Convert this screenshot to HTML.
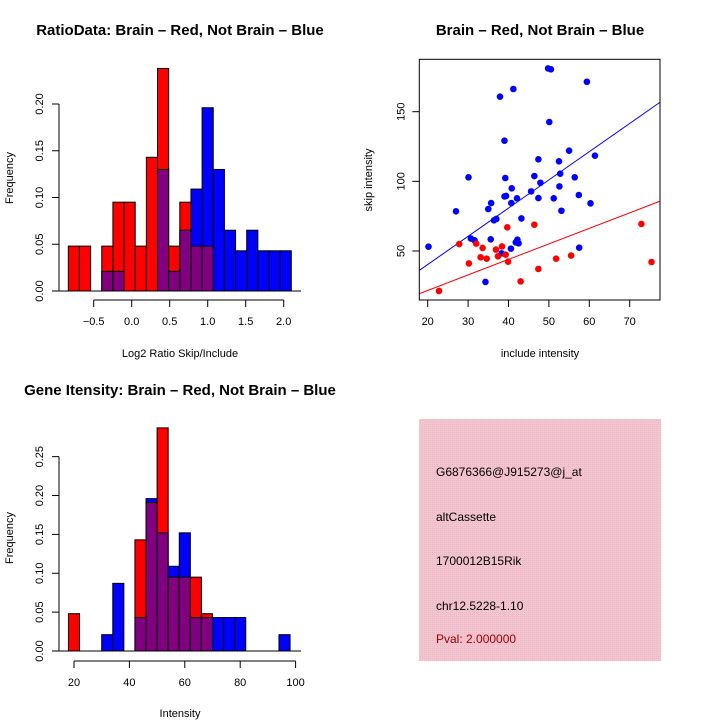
<!DOCTYPE html>
<html><head><meta charset="utf-8"><style>
body{margin:0;background:#fff}
svg{display:block;font-family:"Liberation Sans",sans-serif}
</style></head><body>
<svg id="c" width="720" height="720" xmlns="http://www.w3.org/2000/svg">
<defs><pattern id="pk" width="2" height="2" patternUnits="userSpaceOnUse"><rect width="2" height="2" fill="#f4c4d0"/><rect width="1" height="1" fill="#e8b8c4"/></pattern></defs>
<g id="g1"></g>
<g id="g2"></g>
<g id="g3"></g>
<g>
<rect x="419" y="419" width="242" height="242" fill="url(#pk)"/>
<text x="436" y="476" font-size="12">G6876366@J915273@j_at</text>
<text x="436" y="521" font-size="12">altCassette</text>
<text x="436" y="565" font-size="12">1700012B15Rik</text>
<text x="436" y="610" font-size="12">chr12.5228-1.10</text>
<text x="436" y="643" font-size="12" fill="#a00000">Pval: 2.000000</text>
</g>
</svg>
<script>
// ---- ratio histogram data ----
const ratioBinStart = -0.834, ratioBinWidth = 0.1467;
const ratioRed  = [0.048,0.048,0,0.048,0.095,0.095,0.048,0.143,0.238,0.048,0.095,0.048,0.048,0,0,0,0,0,0,0];
const ratioBlue = [0,0,0,0.021,0.021,0,0,0,0.130,0.021,0.065,0.109,0.196,0.130,0.065,0.043,0.065,0.043,0.043,0.043];
const ratioXTicks = [-0.5,0,0.5,1,1.5,2];
const ratioXLabels = ["\u22120.5","0.0","0.5","1.0","1.5","2.0"];
const ratioYTicks = [0,0.05,0.1,0.15,0.2];
const ratioYLabels = ["0.00","0.05","0.10","0.15","0.20"];
// ---- intensity histogram data ----
const intBinStart = 18, intBinWidth = 4;
const intRed  = [0.048,0,0,0,0,0,0.143,0.191,0.287,0.095,0.095,0.095,0.048,0,0,0,0,0,0,0];
const intBlue = [0,0,0,0.021,0.087,0,0.043,0.196,0.152,0.109,0.152,0.043,0.043,0.043,0.043,0.043,0,0,0,0.021];
const intXTicks = [20,40,60,80,100];
const intXLabels = ["20","40","60","80","100"];
const intYTicks = [0,0.05,0.1,0.15,0.2,0.25];
const intYLabels = ["0.00","0.05","0.10","0.15","0.20","0.25"];
// ---- scatter data ----
const blueX = [20.2,27.0,30.1,30.7,31.6,34.3,35.0,35.7,35.6,36.4,37.0,37.9,38.3,39.0,39.0,39.4,39.2,40.7,40.8,40.6,41.2,42.1,41.8,42.2,42.5,43.2,45.6,46.4,47.4,47.4,47.9,49.8,50.5,50.1,51.2,52.5,52.8,52.6,53.1,55.0,56.4,57.4,57.5,59.4,60.3,61.4];
const blueY = [53.1,78.5,102.9,58.9,57.7,27.8,80.1,84.4,58.4,72.0,73.0,160.8,48.3,129.2,89.2,89.5,102.4,84.4,95.0,51.7,166.3,87.8,56.2,58.1,55.5,73.4,92.8,103.8,115.8,88.0,99.0,181.1,180.4,142.6,87.8,114.4,105.5,96.4,78.9,122.0,102.9,90.2,52.4,171.5,84.2,118.4];
const redX = [22.8,27.8,30.2,32.0,33.1,33.6,34.6,36.9,37.4,38.4,39.3,39.7,39.9,43.0,46.4,47.4,51.8,55.5,72.9,75.4];
const redY = [21.3,55.0,41.1,55.3,45.5,52.2,44.5,51.0,46.2,53.3,47.4,67.0,42.3,28.2,68.9,37.1,44.5,46.7,69.4,42.1];
const fitSlope = [2.025, 1.114];
const fitIntercept = [-0.2, -0.6];
const scXTicks = [20,30,40,50,60,70];
const scYTicks = [50,100,150];

const NS="http://www.w3.org/2000/svg";
function mk(p,tag,a){const e=document.createElementNS(NS,tag);for(const k in a)e.setAttribute(k,a[k]);p.appendChild(e);return e;}
function txt(p,x,y,s,size,rot,anchor,weight){const t=mk(p,'text',{x:x,y:y,'font-size':size,'text-anchor':anchor||'middle'});if(weight)t.setAttribute('font-weight',weight);if(rot)t.setAttribute('transform','rotate(-90 '+x+' '+y+')');t.textContent=s;return t;}

function hist(g,o){
  const X=v=>o.x0+(v-o.xv0)*o.xs, Y=v=>o.y0-v*o.ys;
  for(let i=0;i<o.red.length;i++){
    const a=o.start+i*o.w,b=a+o.w,r=o.red[i],bl=o.blue[i];
    const hi=Math.max(r,bl), lo=Math.min(r,bl);
    if(hi<=0)continue;
    const col=r>=bl?'#ff0000':'#0000ff';
    const e=mk(g,'rect',{x:X(a),y:Y(hi),width:X(b)-X(a),height:Y(0)-Y(hi),fill:col,stroke:'#000','stroke-width':1});
    
    
    if(lo>0){
      const p=mk(g,'rect',{x:X(a),y:Y(lo),width:X(b)-X(a),height:Y(0)-Y(lo),fill:'#800080',stroke:'#000','stroke-width':1});
      
      
    }
  }
  const ax=mk(g,'g',{});
  
  
  mk(ax,'line',{x1:X(o.xt[0]),x2:X(o.xt[o.xt.length-1]),y1:o.axY,y2:o.axY,stroke:'#000'});
  o.xt.forEach((v,i)=>{mk(ax,'line',{x1:X(v),x2:X(v),y1:o.axY,y2:o.axY+7,stroke:'#000'});txt(ax,X(v),o.axY+25,o.xl[i],11);});
  const ay=mk(g,'g',{});
  
  
  mk(ay,'line',{x1:59,x2:59,y1:Y(0),y2:Y(o.yt[o.yt.length-1]),stroke:'#000'});
  o.yt.forEach((v,i)=>{mk(ay,'line',{x1:52,x2:59,y1:Y(v),y2:Y(v),stroke:'#000'});txt(ay,43,Y(v),o.yl[i],11,true);});
  mk(g,'line',{x1:59,x2:301,y1:Y(0),y2:Y(0),stroke:'#000'});
}

const g1=document.getElementById('g1');
hist(g1,{x0:131.7,xv0:0,xs:76,y0:291,ys:935,start:ratioBinStart,w:ratioBinWidth,red:ratioRed,blue:ratioBlue,xt:ratioXTicks,xl:ratioXLabels,yt:ratioYTicks,yl:ratioYLabels,axY:300});
let t=txt(g1,180,35,'RatioData: Brain \u2013 Red, Not Brain \u2013 Blue',15,false,'middle','bold');

t=txt(g1,180,357,'Log2 Ratio Skip/Include',11);

t=txt(g1,13,178,'Frequency',11,true);


const g3=document.getElementById('g3');
hist(g3,{x0:74,xv0:20,xs:2.77,y0:651,ys:777.4,start:intBinStart,w:intBinWidth,red:intRed,blue:intBlue,xt:intXTicks,xl:intXLabels,yt:intYTicks,yl:intYLabels,axY:661});
t=txt(g3,180,395,'Gene Itensity: Brain \u2013 Red, Not Brain \u2013 Blue',15,false,'middle','bold');

t=txt(g3,180,717,'Intensity',11);

t=txt(g3,13,538,'Frequency',11,true);


// scatter
const g2=document.getElementById('g2');
const L=419.3,R=660,T=59.3,B=300;
const SX=v=>427.7+(v-20)*4.04, SY=v=>251-(v-50)*1.393;
mk(g2,'defs',{}).innerHTML='<clipPath id="cp"><rect x="'+L+'" y="'+T+'" width="'+(R-L)+'" height="'+(B-T)+'"/></clipPath>';
const cols=['#0000ff','#ff0000'];
[0,1].forEach(k=>{
  const x1=15,x2=85;
  const ln=mk(g2,'line',{x1:SX(x1),x2:SX(x2),y1:SY(fitSlope[k]*x1+fitIntercept[k]),y2:SY(fitSlope[k]*x2+fitIntercept[k]),stroke:cols[k],'stroke-width':1,'clip-path':'url(#cp)'});
  
  
});
blueX.forEach((x,i)=>{const c=mk(g2,'circle',{cx:SX(x),cy:SY(blueY[i]),r:3.3,fill:'#0000ff'});
  
  });
redX.forEach((x,i)=>{const c=mk(g2,'circle',{cx:SX(x),cy:SY(redY[i]),r:3.3,fill:'#ff0000'});
  
  });
const box=mk(g2,'rect',{x:L,y:T,width:R-L,height:B-T,fill:'none',stroke:'#000'});

const sxa=mk(g2,'g',{});


mk(sxa,'line',{x1:SX(20),x2:SX(70),y1:B,y2:B,stroke:'#000'});
scXTicks.forEach(v=>{mk(sxa,'line',{x1:SX(v),x2:SX(v),y1:B,y2:B+7,stroke:'#000'});txt(sxa,SX(v),B+25,String(v),11);});
const sya=mk(g2,'g',{});


scYTicks.forEach(v=>{mk(sya,'line',{x1:L-7,x2:L,y1:SY(v),y2:SY(v),stroke:'#000'});txt(sya,L-15,SY(v),String(v),11,true);});
t=txt(g2,540,35,'Brain \u2013 Red, Not Brain \u2013 Blue',15,false,'middle','bold');

t=txt(g2,540,357,'include intensity',11);

t=txt(g2,372,180,'skip intensity',11,true);

</script>
</body></html>
